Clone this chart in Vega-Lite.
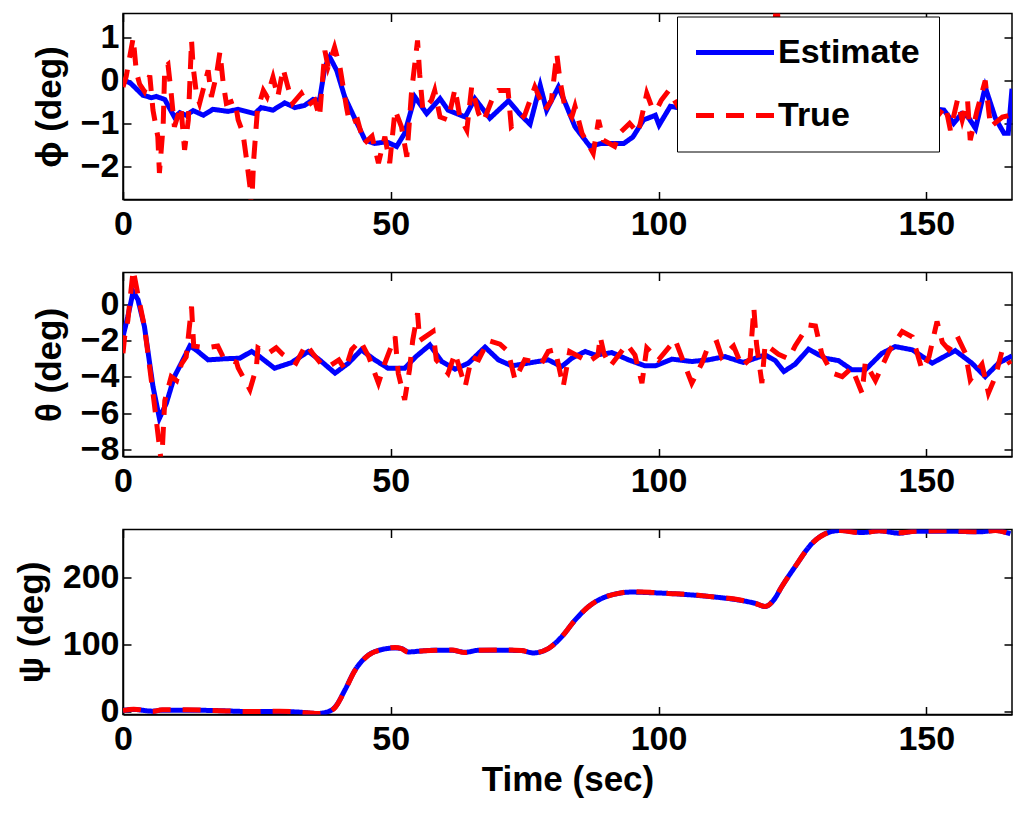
{
  "$schema": "https://vega.github.io/schema/vega-lite/v6.json",
  "description": "Attitude estimate vs true: roll, pitch, yaw over time",
  "background": "white",
  "padding": {"left": 13, "top": 2.5, "right": 5, "bottom": 5},
  "bounds": "flush",
  "spacing": 73,
  "datasets": {
    "phi": [
      {"t": 0, "s": "Estimate", "v": 0.03}, {"t": 1.5, "s": "Estimate", "v": -0.07}, {"t": 3.7, "s": "Estimate", "v": -0.34},
      {"t": 5.3, "s": "Estimate", "v": -0.4}, {"t": 6.2, "s": "Estimate", "v": -0.37}, {"t": 7.8, "s": "Estimate", "v": -0.44},
      {"t": 9.6, "s": "Estimate", "v": -0.85}, {"t": 10.6, "s": "Estimate", "v": -0.75}, {"t": 11.8, "s": "Estimate", "v": -0.81},
      {"t": 13.1, "s": "Estimate", "v": -0.7}, {"t": 15, "s": "Estimate", "v": -0.81}, {"t": 16.8, "s": "Estimate", "v": -0.67},
      {"t": 19.6, "s": "Estimate", "v": -0.72}, {"t": 21.5, "s": "Estimate", "v": -0.67}, {"t": 24.6, "s": "Estimate", "v": -0.77},
      {"t": 25.8, "s": "Estimate", "v": -0.63}, {"t": 28, "s": "Estimate", "v": -0.69}, {"t": 30.2, "s": "Estimate", "v": -0.52},
      {"t": 32.1, "s": "Estimate", "v": -0.63}, {"t": 33.9, "s": "Estimate", "v": -0.58}, {"t": 35.5, "s": "Estimate", "v": -0.44},
      {"t": 36.7, "s": "Estimate", "v": -0.46}, {"t": 37.7, "s": "Estimate", "v": 0.32}, {"t": 38.6, "s": "Estimate", "v": 0.55},
      {"t": 39.9, "s": "Estimate", "v": 0.24}, {"t": 41.4, "s": "Estimate", "v": -0.38}, {"t": 43, "s": "Estimate", "v": -0.81},
      {"t": 45.2, "s": "Estimate", "v": -1.39}, {"t": 47, "s": "Estimate", "v": -1.47}, {"t": 49.2, "s": "Estimate", "v": -1.43},
      {"t": 51.1, "s": "Estimate", "v": -1.54}, {"t": 52.6, "s": "Estimate", "v": -1.23}, {"t": 54.5, "s": "Estimate", "v": -0.38},
      {"t": 56.7, "s": "Estimate", "v": -0.77}, {"t": 59.2, "s": "Estimate", "v": -0.42}, {"t": 60.7, "s": "Estimate", "v": -0.69},
      {"t": 63.9, "s": "Estimate", "v": -0.85}, {"t": 65.7, "s": "Estimate", "v": -0.42}, {"t": 68.5, "s": "Estimate", "v": -0.88},
      {"t": 72, "s": "Estimate", "v": -0.47}, {"t": 74, "s": "Estimate", "v": -0.77}, {"t": 76, "s": "Estimate", "v": -1.02},
      {"t": 77.9, "s": "Estimate", "v": -0.11}, {"t": 79.1, "s": "Estimate", "v": -0.69}, {"t": 81.3, "s": "Estimate", "v": -0.15},
      {"t": 82.5, "s": "Estimate", "v": -0.5}, {"t": 84.4, "s": "Estimate", "v": -1.08}, {"t": 87.2, "s": "Estimate", "v": -1.54},
      {"t": 89.3, "s": "Estimate", "v": -1.47}, {"t": 93.5, "s": "Estimate", "v": -1.47}, {"t": 95.2, "s": "Estimate", "v": -1.32},
      {"t": 97.2, "s": "Estimate", "v": -0.92}, {"t": 99.4, "s": "Estimate", "v": -0.81}, {"t": 100.1, "s": "Estimate", "v": -1.04},
      {"t": 102.2, "s": "Estimate", "v": -0.6}, {"t": 103.5, "s": "Estimate", "v": -0.63}, {"t": 108, "s": "Estimate", "v": -0.7},
      {"t": 113, "s": "Estimate", "v": -0.9}, {"t": 118, "s": "Estimate", "v": -0.6}, {"t": 123, "s": "Estimate", "v": -0.8},
      {"t": 128, "s": "Estimate", "v": -0.5}, {"t": 133, "s": "Estimate", "v": -0.9}, {"t": 138, "s": "Estimate", "v": -0.7},
      {"t": 143, "s": "Estimate", "v": -0.8}, {"t": 148, "s": "Estimate", "v": -0.6}, {"t": 153.3, "s": "Estimate", "v": -0.69},
      {"t": 155.1, "s": "Estimate", "v": -1.0}, {"t": 156.6, "s": "Estimate", "v": -0.77}, {"t": 157.8, "s": "Estimate", "v": -0.85},
      {"t": 159.2, "s": "Estimate", "v": -1.12}, {"t": 161, "s": "Estimate", "v": -0.15}, {"t": 162.9, "s": "Estimate", "v": -0.88},
      {"t": 164.5, "s": "Estimate", "v": -1.23}, {"t": 165.3, "s": "Estimate", "v": -1.23}, {"t": 166, "s": "Estimate", "v": -0.19},

      {"t": 0, "s": "True", "v": -0.15}, {"t": 0.6, "s": "True", "v": 0.1}, {"t": 1.9, "s": "True", "v": 1.0},
      {"t": 2.5, "s": "True", "v": 0.2}, {"t": 3.1, "s": "True", "v": -0.08}, {"t": 4, "s": "True", "v": -0.25},
      {"t": 5, "s": "True", "v": 0.12}, {"t": 5.6, "s": "True", "v": -0.69}, {"t": 6.5, "s": "True", "v": -1.31},
      {"t": 6.8, "s": "True", "v": -2.16}, {"t": 7.5, "s": "True", "v": -1.05}, {"t": 7.8, "s": "True", "v": 0.32},
      {"t": 8.4, "s": "True", "v": 0.38}, {"t": 9, "s": "True", "v": -0.3}, {"t": 9.6, "s": "True", "v": -1.08},
      {"t": 10.8, "s": "True", "v": -0.6}, {"t": 11.5, "s": "True", "v": -1.62}, {"t": 12.2, "s": "True", "v": -0.92},
      {"t": 12.8, "s": "True", "v": 0.94}, {"t": 13.1, "s": "True", "v": 0.32}, {"t": 13.7, "s": "True", "v": -0.3},
      {"t": 14.3, "s": "True", "v": -0.53}, {"t": 15.9, "s": "True", "v": 0.24}, {"t": 16.5, "s": "True", "v": -0.38},
      {"t": 17.4, "s": "True", "v": 0.1}, {"t": 18.1, "s": "True", "v": 0.67}, {"t": 18.7, "s": "True", "v": -0.05},
      {"t": 19.3, "s": "True", "v": -0.53}, {"t": 20.9, "s": "True", "v": -0.46}, {"t": 21.5, "s": "True", "v": -0.92},
      {"t": 22.4, "s": "True", "v": -1.23}, {"t": 23, "s": "True", "v": -1.78}, {"t": 23.7, "s": "True", "v": -2.47},
      {"t": 24, "s": "True", "v": -3.0}, {"t": 24.4, "s": "True", "v": -1.86}, {"t": 25.1, "s": "True", "v": -0.69},
      {"t": 26.2, "s": "True", "v": -0.23}, {"t": 26.9, "s": "True", "v": -0.38}, {"t": 28, "s": "True", "v": 0.08},
      {"t": 28.9, "s": "True", "v": -0.38}, {"t": 29.9, "s": "True", "v": 0.28}, {"t": 30.8, "s": "True", "v": -0.15},
      {"t": 31.7, "s": "True", "v": -0.53}, {"t": 33.3, "s": "True", "v": -0.3}, {"t": 34.5, "s": "True", "v": -0.58},
      {"t": 35.8, "s": "True", "v": -0.46}, {"t": 36.7, "s": "True", "v": -0.85}, {"t": 37.7, "s": "True", "v": 0.7},
      {"t": 38.3, "s": "True", "v": 0.32}, {"t": 39.5, "s": "True", "v": 0.78}, {"t": 40.5, "s": "True", "v": 0.32},
      {"t": 41.7, "s": "True", "v": -0.6}, {"t": 42.3, "s": "True", "v": -1.0}, {"t": 43.8, "s": "True", "v": -0.92},
      {"t": 45, "s": "True", "v": -1.47}, {"t": 46.5, "s": "True", "v": -1.3}, {"t": 47.7, "s": "True", "v": -1.93},
      {"t": 48.9, "s": "True", "v": -1.31}, {"t": 49.8, "s": "True", "v": -1.93}, {"t": 50.8, "s": "True", "v": -0.69},
      {"t": 52, "s": "True", "v": -1.08}, {"t": 53, "s": "True", "v": -1.78}, {"t": 53.9, "s": "True", "v": -0.23},
      {"t": 54.5, "s": "True", "v": 0.4}, {"t": 55, "s": "True", "v": 0.94}, {"t": 55.4, "s": "True", "v": 0.15},
      {"t": 56, "s": "True", "v": -0.69}, {"t": 57.6, "s": "True", "v": -0.46}, {"t": 58.2, "s": "True", "v": -0.23},
      {"t": 59.2, "s": "True", "v": -0.85}, {"t": 60.7, "s": "True", "v": -0.92}, {"t": 62, "s": "True", "v": -0.19},
      {"t": 62.9, "s": "True", "v": -0.85}, {"t": 64.2, "s": "True", "v": -1.16}, {"t": 65.1, "s": "True", "v": -0.15},
      {"t": 66.4, "s": "True", "v": -0.77}, {"t": 67.3, "s": "True", "v": -0.96}, {"t": 69.1, "s": "True", "v": -0.38},
      {"t": 70.1, "s": "True", "v": -0.23}, {"t": 71.9, "s": "True", "v": -0.23}, {"t": 72.5, "s": "True", "v": -1.08},
      {"t": 74.1, "s": "True", "v": -0.92}, {"t": 75, "s": "True", "v": -0.81}, {"t": 76.9, "s": "True", "v": -0.15},
      {"t": 78.8, "s": "True", "v": -0.69}, {"t": 80, "s": "True", "v": -0.46}, {"t": 81, "s": "True", "v": 0.63},
      {"t": 81.6, "s": "True", "v": 0}, {"t": 82.5, "s": "True", "v": -0.61}, {"t": 83.8, "s": "True", "v": -0.85},
      {"t": 84.4, "s": "True", "v": -0.6}, {"t": 85.7, "s": "True", "v": -1.23}, {"t": 87.8, "s": "True", "v": -1.7},
      {"t": 88.8, "s": "True", "v": -0.92}, {"t": 89.7, "s": "True", "v": -1.39}, {"t": 91.8, "s": "True", "v": -1.54},
      {"t": 92.7, "s": "True", "v": -1.23}, {"t": 94.6, "s": "True", "v": -1.0}, {"t": 96.2, "s": "True", "v": -1.23},
      {"t": 97.8, "s": "True", "v": -0.3}, {"t": 98.7, "s": "True", "v": -0.6}, {"t": 99.6, "s": "True", "v": -0.69},
      {"t": 100.5, "s": "True", "v": -0.46}, {"t": 101.9, "s": "True", "v": -0.23}, {"t": 105, "s": "True", "v": -0.9},
      {"t": 109, "s": "True", "v": -0.3}, {"t": 113, "s": "True", "v": -1.1}, {"t": 117, "s": "True", "v": -0.4},
      {"t": 121, "s": "True", "v": 0.6}, {"t": 122.1, "s": "True", "v": 1.8}, {"t": 123, "s": "True", "v": 0.2},
      {"t": 127, "s": "True", "v": -0.9}, {"t": 131, "s": "True", "v": -0.2}, {"t": 135, "s": "True", "v": -1.2},
      {"t": 139, "s": "True", "v": -0.5}, {"t": 143, "s": "True", "v": -0.9}, {"t": 147, "s": "True", "v": -0.3},
      {"t": 151, "s": "True", "v": -1.0}, {"t": 153.6, "s": "True", "v": -0.6}, {"t": 154.5, "s": "True", "v": -1.16},
      {"t": 155.8, "s": "True", "v": -0.46}, {"t": 156.7, "s": "True", "v": -0.92}, {"t": 157.7, "s": "True", "v": -0.46},
      {"t": 158.2, "s": "True", "v": -1.39}, {"t": 159.5, "s": "True", "v": -0.69}, {"t": 161, "s": "True", "v": 0},
      {"t": 162, "s": "True", "v": -1.08}, {"t": 164.2, "s": "True", "v": -0.85}, {"t": 165.8, "s": "True", "v": -0.81}
    ],
    "theta": [
      {"t": 0, "s": "Estimate", "v": -1.78}, {"t": 0.9, "s": "Estimate", "v": -0.68}, {"t": 1.9, "s": "Estimate", "v": 0.69},
      {"t": 2.8, "s": "Estimate", "v": 0.24}, {"t": 4, "s": "Estimate", "v": -1.23}, {"t": 5.6, "s": "Estimate", "v": -4.53},
      {"t": 6.8, "s": "Estimate", "v": -6.27}, {"t": 8.1, "s": "Estimate", "v": -5.44}, {"t": 9.6, "s": "Estimate", "v": -3.98},
      {"t": 11.2, "s": "Estimate", "v": -3.06}, {"t": 12.5, "s": "Estimate", "v": -2.29}, {"t": 13.7, "s": "Estimate", "v": -2.53},
      {"t": 15.9, "s": "Estimate", "v": -3.06}, {"t": 19, "s": "Estimate", "v": -3.0}, {"t": 21.8, "s": "Estimate", "v": -2.97},
      {"t": 24, "s": "Estimate", "v": -2.6}, {"t": 25.5, "s": "Estimate", "v": -2.88}, {"t": 28.3, "s": "Estimate", "v": -3.52},
      {"t": 31.4, "s": "Estimate", "v": -3.22}, {"t": 34.6, "s": "Estimate", "v": -2.6}, {"t": 36.7, "s": "Estimate", "v": -3.06},
      {"t": 39.6, "s": "Estimate", "v": -3.79}, {"t": 42.1, "s": "Estimate", "v": -3.24}, {"t": 44.5, "s": "Estimate", "v": -2.51},
      {"t": 47, "s": "Estimate", "v": -3.06}, {"t": 49.5, "s": "Estimate", "v": -3.52}, {"t": 52.6, "s": "Estimate", "v": -3.52},
      {"t": 54.7, "s": "Estimate", "v": -2.88}, {"t": 57.3, "s": "Estimate", "v": -2.24}, {"t": 59.5, "s": "Estimate", "v": -3.15},
      {"t": 62, "s": "Estimate", "v": -3.57}, {"t": 64.5, "s": "Estimate", "v": -3.24}, {"t": 67.6, "s": "Estimate", "v": -2.36},
      {"t": 70.1, "s": "Estimate", "v": -3.06}, {"t": 72.6, "s": "Estimate", "v": -3.39}, {"t": 75.6, "s": "Estimate", "v": -3.24},
      {"t": 79.4, "s": "Estimate", "v": -3.06}, {"t": 81.9, "s": "Estimate", "v": -3.43}, {"t": 83.8, "s": "Estimate", "v": -2.97},
      {"t": 86.3, "s": "Estimate", "v": -2.6}, {"t": 88.2, "s": "Estimate", "v": -2.8}, {"t": 91.3, "s": "Estimate", "v": -2.66},
      {"t": 94.4, "s": "Estimate", "v": -3.06}, {"t": 97.5, "s": "Estimate", "v": -3.39}, {"t": 99.4, "s": "Estimate", "v": -3.39},
      {"t": 102.5, "s": "Estimate", "v": -3.02}, {"t": 106.2, "s": "Estimate", "v": -3.15}, {"t": 109.3, "s": "Estimate", "v": -3.06},
      {"t": 112.4, "s": "Estimate", "v": -2.88}, {"t": 115.8, "s": "Estimate", "v": -3.2}, {"t": 119.9, "s": "Estimate", "v": -2.79},
      {"t": 121.8, "s": "Estimate", "v": -3.1}, {"t": 123.4, "s": "Estimate", "v": -3.7}, {"t": 125.5, "s": "Estimate", "v": -3.3},
      {"t": 128, "s": "Estimate", "v": -2.47}, {"t": 131.1, "s": "Estimate", "v": -2.97}, {"t": 133.6, "s": "Estimate", "v": -3.1},
      {"t": 136.1, "s": "Estimate", "v": -3.61}, {"t": 138.6, "s": "Estimate", "v": -3.61}, {"t": 141.7, "s": "Estimate", "v": -2.7},
      {"t": 144.2, "s": "Estimate", "v": -2.33}, {"t": 147.4, "s": "Estimate", "v": -2.51}, {"t": 151.1, "s": "Estimate", "v": -3.24},
      {"t": 155.4, "s": "Estimate", "v": -2.55}, {"t": 158.5, "s": "Estimate", "v": -3.24}, {"t": 161, "s": "Estimate", "v": -3.98},
      {"t": 163.5, "s": "Estimate", "v": -3.24}, {"t": 166, "s": "Estimate", "v": -2.84},

      {"t": 0, "s": "True", "v": -2.7}, {"t": 0.3, "s": "True", "v": -1.8}, {"t": 0.9, "s": "True", "v": -0.9},
      {"t": 1.9, "s": "True", "v": 1.88}, {"t": 2.8, "s": "True", "v": 0.5}, {"t": 4, "s": "True", "v": -1.23},
      {"t": 5, "s": "True", "v": -3.5}, {"t": 5.9, "s": "True", "v": -5.6}, {"t": 6.8, "s": "True", "v": -7.82},
      {"t": 7.2, "s": "True", "v": -8.8}, {"t": 7.8, "s": "True", "v": -5.3}, {"t": 9, "s": "True", "v": -3.98},
      {"t": 10, "s": "True", "v": -4.2}, {"t": 10.9, "s": "True", "v": -3.3}, {"t": 11.8, "s": "True", "v": -2.9},
      {"t": 12.8, "s": "True", "v": -0.13}, {"t": 13.2, "s": "True", "v": -2.3}, {"t": 15.6, "s": "True", "v": -2.4},
      {"t": 17.7, "s": "True", "v": -2.3}, {"t": 18.7, "s": "True", "v": -2.9}, {"t": 21.2, "s": "True", "v": -3.2},
      {"t": 21.5, "s": "True", "v": -3.5}, {"t": 23.7, "s": "True", "v": -4.7}, {"t": 24.9, "s": "True", "v": -3.5},
      {"t": 25.2, "s": "True", "v": -2.4}, {"t": 27.1, "s": "True", "v": -2.7}, {"t": 28.6, "s": "True", "v": -2.4},
      {"t": 29.8, "s": "True", "v": -2.75}, {"t": 32.3, "s": "True", "v": -3.24}, {"t": 34.2, "s": "True", "v": -2.2},
      {"t": 35.4, "s": "True", "v": -2.7}, {"t": 36.9, "s": "True", "v": -3.24}, {"t": 38.4, "s": "True", "v": -3.43},
      {"t": 40.3, "s": "True", "v": -3.06}, {"t": 41.5, "s": "True", "v": -3.61}, {"t": 42.7, "s": "True", "v": -2.5},
      {"t": 44.3, "s": "True", "v": -2.0}, {"t": 45.9, "s": "True", "v": -2.9}, {"t": 47.7, "s": "True", "v": -4.34},
      {"t": 48.9, "s": "True", "v": -3.24}, {"t": 50.8, "s": "True", "v": -1.78}, {"t": 51.4, "s": "True", "v": -3.8},
      {"t": 52.6, "s": "True", "v": -5.26}, {"t": 53.5, "s": "True", "v": -3.6}, {"t": 54.1, "s": "True", "v": -1.98},
      {"t": 55, "s": "True", "v": -0.5}, {"t": 55.4, "s": "True", "v": -2.0}, {"t": 57.9, "s": "True", "v": -1.5},
      {"t": 58.5, "s": "True", "v": -3.06}, {"t": 60.7, "s": "True", "v": -3.8}, {"t": 62, "s": "True", "v": -2.7},
      {"t": 63.9, "s": "True", "v": -4.53}, {"t": 65.1, "s": "True", "v": -2.9}, {"t": 66.4, "s": "True", "v": -3.06},
      {"t": 68.2, "s": "True", "v": -2.0}, {"t": 70.4, "s": "True", "v": -2.2}, {"t": 71.9, "s": "True", "v": -2.6},
      {"t": 73.2, "s": "True", "v": -4.16}, {"t": 75, "s": "True", "v": -3.06}, {"t": 78.2, "s": "True", "v": -3.24},
      {"t": 79.4, "s": "True", "v": -2.6}, {"t": 80.7, "s": "True", "v": -2.5}, {"t": 82.2, "s": "True", "v": -4.53},
      {"t": 83.4, "s": "True", "v": -2.6}, {"t": 85.9, "s": "True", "v": -3.0}, {"t": 86.8, "s": "True", "v": -3.2},
      {"t": 88.7, "s": "True", "v": -2.8}, {"t": 89.1, "s": "True", "v": -1.78}, {"t": 89.8, "s": "True", "v": -2.7},
      {"t": 91, "s": "True", "v": -3.4}, {"t": 94.1, "s": "True", "v": -2.2}, {"t": 95.6, "s": "True", "v": -2.8},
      {"t": 96.9, "s": "True", "v": -4.34}, {"t": 97.8, "s": "True", "v": -2.4}, {"t": 100, "s": "True", "v": -3.06},
      {"t": 103.1, "s": "True", "v": -1.96}, {"t": 105, "s": "True", "v": -3.43}, {"t": 106.2, "s": "True", "v": -4.34},
      {"t": 108.1, "s": "True", "v": -3.24}, {"t": 109.3, "s": "True", "v": -2.3}, {"t": 110.9, "s": "True", "v": -2.1},
      {"t": 111.8, "s": "True", "v": -2.9}, {"t": 114, "s": "True", "v": -2.3}, {"t": 115.6, "s": "True", "v": -3.43},
      {"t": 117.1, "s": "True", "v": -3.0}, {"t": 117.8, "s": "True", "v": -0.22}, {"t": 118.3, "s": "True", "v": -2.2},
      {"t": 119.3, "s": "True", "v": -4.34}, {"t": 119.9, "s": "True", "v": -2.2}, {"t": 122.4, "s": "True", "v": -2.75},
      {"t": 124.3, "s": "True", "v": -3.0}, {"t": 125.5, "s": "True", "v": -2.3}, {"t": 128, "s": "True", "v": -1.14},
      {"t": 129.3, "s": "True", "v": -1.2}, {"t": 130.5, "s": "True", "v": -2.75}, {"t": 132.4, "s": "True", "v": -3.79},
      {"t": 134.3, "s": "True", "v": -3.98}, {"t": 136.1, "s": "True", "v": -3.5}, {"t": 138, "s": "True", "v": -4.89},
      {"t": 138.6, "s": "True", "v": -3.2}, {"t": 140.5, "s": "True", "v": -4.2}, {"t": 143, "s": "True", "v": -2.6},
      {"t": 145.5, "s": "True", "v": -1.5}, {"t": 147.4, "s": "True", "v": -1.8}, {"t": 149.2, "s": "True", "v": -3.6},
      {"t": 150.5, "s": "True", "v": -2.9}, {"t": 152, "s": "True", "v": -0.95}, {"t": 153, "s": "True", "v": -2.1},
      {"t": 154.2, "s": "True", "v": -2.5}, {"t": 155.8, "s": "True", "v": -1.78}, {"t": 157.3, "s": "True", "v": -2.7},
      {"t": 158.2, "s": "True", "v": -4.16}, {"t": 160.4, "s": "True", "v": -3.3}, {"t": 161.6, "s": "True", "v": -4.89},
      {"t": 162.9, "s": "True", "v": -3.98}, {"t": 164.1, "s": "True", "v": -2.6}, {"t": 165.7, "s": "True", "v": -3.3}
    ],
    "psi": [
      {"t": 0, "s": "Estimate", "v": 1.5}, {"t": 2, "s": "Estimate", "v": 3}, {"t": 5.5, "s": "Estimate", "v": 0.5},
      {"t": 7.3, "s": "Estimate", "v": 2}, {"t": 12, "s": "Estimate", "v": 2}, {"t": 16.7, "s": "Estimate", "v": 1.5},
      {"t": 23.6, "s": "Estimate", "v": 0}, {"t": 29.2, "s": "Estimate", "v": 0}, {"t": 33, "s": "Estimate", "v": -1},
      {"t": 36.4, "s": "Estimate", "v": -3}, {"t": 38, "s": "Estimate", "v": -1}, {"t": 39.6, "s": "Estimate", "v": 6.5},
      {"t": 41.4, "s": "Estimate", "v": 31.5}, {"t": 43.3, "s": "Estimate", "v": 61.5}, {"t": 45.8, "s": "Estimate", "v": 84},
      {"t": 48.3, "s": "Estimate", "v": 92.5}, {"t": 50.8, "s": "Estimate", "v": 95}, {"t": 52, "s": "Estimate", "v": 94},
      {"t": 53.3, "s": "Estimate", "v": 89}, {"t": 55.8, "s": "Estimate", "v": 90.5}, {"t": 58.3, "s": "Estimate", "v": 91.5},
      {"t": 61.4, "s": "Estimate", "v": 91.5}, {"t": 63.9, "s": "Estimate", "v": 88.5}, {"t": 66.4, "s": "Estimate", "v": 91.5},
      {"t": 70.8, "s": "Estimate", "v": 91.5}, {"t": 74.4, "s": "Estimate", "v": 91}, {"t": 76.6, "s": "Estimate", "v": 87.5},
      {"t": 79.4, "s": "Estimate", "v": 94}, {"t": 81.9, "s": "Estimate", "v": 111.5}, {"t": 84.4, "s": "Estimate", "v": 136.5},
      {"t": 86.9, "s": "Estimate", "v": 156.5}, {"t": 89.4, "s": "Estimate", "v": 169}, {"t": 92.5, "s": "Estimate", "v": 176.5},
      {"t": 94.9, "s": "Estimate", "v": 178.5}, {"t": 98.7, "s": "Estimate", "v": 177.5}, {"t": 101.8, "s": "Estimate", "v": 176.5},
      {"t": 105.6, "s": "Estimate", "v": 174.5}, {"t": 110, "s": "Estimate", "v": 171.5}, {"t": 115, "s": "Estimate", "v": 166.5},
      {"t": 118.1, "s": "Estimate", "v": 161.5}, {"t": 119.9, "s": "Estimate", "v": 157}, {"t": 121.5, "s": "Estimate", "v": 166.5},
      {"t": 123, "s": "Estimate", "v": 186.5}, {"t": 125.5, "s": "Estimate", "v": 216.5}, {"t": 128.7, "s": "Estimate", "v": 251.5},
      {"t": 131.1, "s": "Estimate", "v": 265.5}, {"t": 133.9, "s": "Estimate", "v": 270.5}, {"t": 138, "s": "Estimate", "v": 267.5},
      {"t": 141.2, "s": "Estimate", "v": 270}, {"t": 144.9, "s": "Estimate", "v": 266.5}, {"t": 148, "s": "Estimate", "v": 269.5},
      {"t": 153.6, "s": "Estimate", "v": 269.5}, {"t": 159.9, "s": "Estimate", "v": 268.5}, {"t": 162.9, "s": "Estimate", "v": 270.5},
      {"t": 165.7, "s": "Estimate", "v": 265.5},

      {"t": 0, "s": "True", "v": 1.5}, {"t": 2, "s": "True", "v": 3.5}, {"t": 5.5, "s": "True", "v": 0},
      {"t": 7.3, "s": "True", "v": 2.5}, {"t": 12, "s": "True", "v": 2.5}, {"t": 16.7, "s": "True", "v": 1.5},
      {"t": 23.6, "s": "True", "v": 0}, {"t": 29.2, "s": "True", "v": 0.5}, {"t": 33, "s": "True", "v": -1},
      {"t": 36.4, "s": "True", "v": -3}, {"t": 38, "s": "True", "v": -1.5}, {"t": 39.6, "s": "True", "v": 6},
      {"t": 41.4, "s": "True", "v": 31}, {"t": 43.3, "s": "True", "v": 61}, {"t": 45.8, "s": "True", "v": 84},
      {"t": 48.3, "s": "True", "v": 92.5}, {"t": 50.8, "s": "True", "v": 95.5}, {"t": 52, "s": "True", "v": 94},
      {"t": 53.3, "s": "True", "v": 88.5}, {"t": 55.8, "s": "True", "v": 90.5}, {"t": 58.3, "s": "True", "v": 91.5},
      {"t": 61.4, "s": "True", "v": 92}, {"t": 63.9, "s": "True", "v": 88}, {"t": 66.4, "s": "True", "v": 91.5},
      {"t": 70.8, "s": "True", "v": 92}, {"t": 74.4, "s": "True", "v": 91}, {"t": 76.6, "s": "True", "v": 87.5},
      {"t": 79.4, "s": "True", "v": 94}, {"t": 81.9, "s": "True", "v": 111.5}, {"t": 84.4, "s": "True", "v": 136.5},
      {"t": 86.9, "s": "True", "v": 156.5}, {"t": 89.4, "s": "True", "v": 169}, {"t": 92.5, "s": "True", "v": 176.5},
      {"t": 94.9, "s": "True", "v": 179}, {"t": 98.7, "s": "True", "v": 178}, {"t": 101.8, "s": "True", "v": 176.5},
      {"t": 105.6, "s": "True", "v": 175}, {"t": 110, "s": "True", "v": 171.5}, {"t": 115, "s": "True", "v": 167},
      {"t": 118.1, "s": "True", "v": 161.5}, {"t": 119.9, "s": "True", "v": 157}, {"t": 121.5, "s": "True", "v": 166.5},
      {"t": 123, "s": "True", "v": 186.5}, {"t": 125.5, "s": "True", "v": 216.5}, {"t": 128.7, "s": "True", "v": 251.5},
      {"t": 131.1, "s": "True", "v": 265.5}, {"t": 133.9, "s": "True", "v": 270.5}, {"t": 138, "s": "True", "v": 267},
      {"t": 141.2, "s": "True", "v": 270}, {"t": 144.9, "s": "True", "v": 267}, {"t": 148, "s": "True", "v": 269.5},
      {"t": 153.6, "s": "True", "v": 270}, {"t": 159.9, "s": "True", "v": 268.5}, {"t": 162.9, "s": "True", "v": 270.5},
      {"t": 165.7, "s": "True", "v": 265}
    ]
  },
  "vconcat": [
    {
      "width": 889,
      "height": 186,
      "data": {"name": "phi"},
      "resolve": {"axis": {"x": "independent", "y": "independent"}},
      "layer": [
        {
          "mark": {"type": "line", "strokeWidth": 5, "clip": true},
          "encoding": {
            "x": {"field": "t", "type": "quantitative", "scale": {"domain": [0, 166], "nice": false, "zero": false}, "axis": {"orient": "bottom", "values": [0, 50, 100, 150], "title": null}},
            "y": {"field": "v", "type": "quantitative", "scale": {"domain": [-2.78, 1.57], "nice": false, "zero": false}, "axis": {"orient": "left", "values": [-2, -1, 0, 1], "title": "ϕ (deg)"}},
            "color": {
              "field": "s", "type": "nominal",
              "scale": {"domain": ["Estimate", "True"], "range": ["#0000ff", "#ff0000"]},
              "legend": {"title": null, "orient": "none", "legendX": 554, "legendY": 3, "symbolType": "M-2.69,0H2.69", "symbolSize": 841, "symbolStrokeWidth": 5, "symbolOffset": 22, "labelOffset": 26, "padding": 19, "rowPadding": 29}
            },
            "strokeDash": {
              "field": "s", "type": "nominal",
              "scale": {"domain": ["Estimate", "True"], "range": [[1, 0], [18, 12]]},
              "legend": {"title": null, "orient": "none", "legendX": 554, "legendY": 3, "symbolType": "M-2.69,0H2.69", "symbolSize": 841, "symbolStrokeWidth": 5, "symbolOffset": 22, "labelOffset": 26, "padding": 19, "rowPadding": 29}
            }
          }
        },
        {
          "mark": {"type": "line", "opacity": 0},
          "encoding": {
            "x": {"field": "t", "type": "quantitative", "axis": {"orient": "top", "values": [0, 50, 100, 150], "labels": false, "domain": false, "title": null}},
            "y": {"field": "v", "type": "quantitative", "axis": {"orient": "right", "values": [-2, -1, 0, 1], "labels": false, "domain": false, "title": null}}
          }
        }
      ]
    },
    {
      "width": 889,
      "height": 184,
      "data": {"name": "theta"},
      "resolve": {"axis": {"x": "independent", "y": "independent"}},
      "layer": [
        {
          "mark": {"type": "line", "strokeWidth": 5, "clip": true},
          "encoding": {
            "x": {"field": "t", "type": "quantitative", "scale": {"domain": [0, 166], "nice": false, "zero": false}, "axis": {"orient": "bottom", "values": [0, 50, 100, 150], "title": null}},
            "y": {"field": "v", "type": "quantitative", "scale": {"domain": [-8.37, 1.74], "nice": false, "zero": false}, "axis": {"orient": "left", "values": [-8, -6, -4, -2, 0], "title": "θ (deg)"}},
            "color": {"field": "s", "type": "nominal", "scale": {"domain": ["Estimate", "True"], "range": ["#0000ff", "#ff0000"]}, "legend": null},
            "strokeDash": {"field": "s", "type": "nominal", "scale": {"domain": ["Estimate", "True"], "range": [[1, 0], [18, 12]]}, "legend": null}
          }
        },
        {
          "mark": {"type": "line", "opacity": 0},
          "encoding": {
            "x": {"field": "t", "type": "quantitative", "axis": {"orient": "top", "values": [0, 50, 100, 150], "labels": false, "domain": false, "title": null}},
            "y": {"field": "v", "type": "quantitative", "axis": {"orient": "right", "values": [-8, -6, -4, -2, 0], "labels": false, "domain": false, "title": null}}
          }
        }
      ]
    },
    {
      "width": 889,
      "height": 185,
      "data": {"name": "psi"},
      "resolve": {"axis": {"x": "independent", "y": "independent"}},
      "layer": [
        {
          "mark": {"type": "line", "strokeWidth": 5, "clip": true, "interpolate": "monotone"},
          "encoding": {
            "x": {"field": "t", "type": "quantitative", "scale": {"domain": [0, 166], "nice": false, "zero": false}, "axis": {"orient": "bottom", "values": [0, 50, 100, 150], "title": "Time (sec)"}},
            "y": {"field": "v", "type": "quantitative", "scale": {"domain": [-4.5, 272], "nice": false, "zero": false}, "axis": {"orient": "left", "values": [0, 100, 200], "title": "ψ (deg)"}},
            "color": {"field": "s", "type": "nominal", "scale": {"domain": ["Estimate", "True"], "range": ["#0000ff", "#ff0000"]}, "legend": null},
            "strokeDash": {"field": "s", "type": "nominal", "scale": {"domain": ["Estimate", "True"], "range": [[1, 0], [18, 12]]}, "legend": null}
          }
        },
        {
          "mark": {"type": "line", "opacity": 0},
          "encoding": {
            "x": {"field": "t", "type": "quantitative", "axis": {"orient": "top", "values": [0, 50, 100, 150], "labels": false, "domain": false, "title": null}},
            "y": {"field": "v", "type": "quantitative", "axis": {"orient": "right", "values": [0, 100, 200], "labels": false, "domain": false, "title": null}}
          }
        }
      ]
    }
  ],
  "resolve": {"legend": {"color": "independent", "strokeDash": "independent"}},
  "config": {
    "view": {"stroke": "black", "strokeWidth": 1.5},
    "axis": {
      "grid": false,
      "labelFont": "Liberation Sans",
      "labelFontSize": 34,
      "labelFontWeight": "bold",
      "labelColor": "black",
      "titleFont": "Liberation Sans",
      "titleFontSize": 35,
      "titleFontWeight": "bold",
      "titleColor": "black",
      "domainColor": "black",
      "domainWidth": 1.5,
      "tickColor": "black",
      "tickWidth": 1.5,
      "tickSize": -8,
      "labelPadding": 12,
      "labelFlush": false,
      "labelOverlap": false
    },
    "axisX": {"labelPadding": 16, "titlePadding": 6},
    "axisY": {"titlePadding": 13},
    "legend": {
      "fillColor": "white",
      "strokeColor": "black",
      "labelFont": "Liberation Sans",
      "labelFontSize": 34,
      "labelFontWeight": "bold",
      "labelColor": "black"
    }
  }
}
